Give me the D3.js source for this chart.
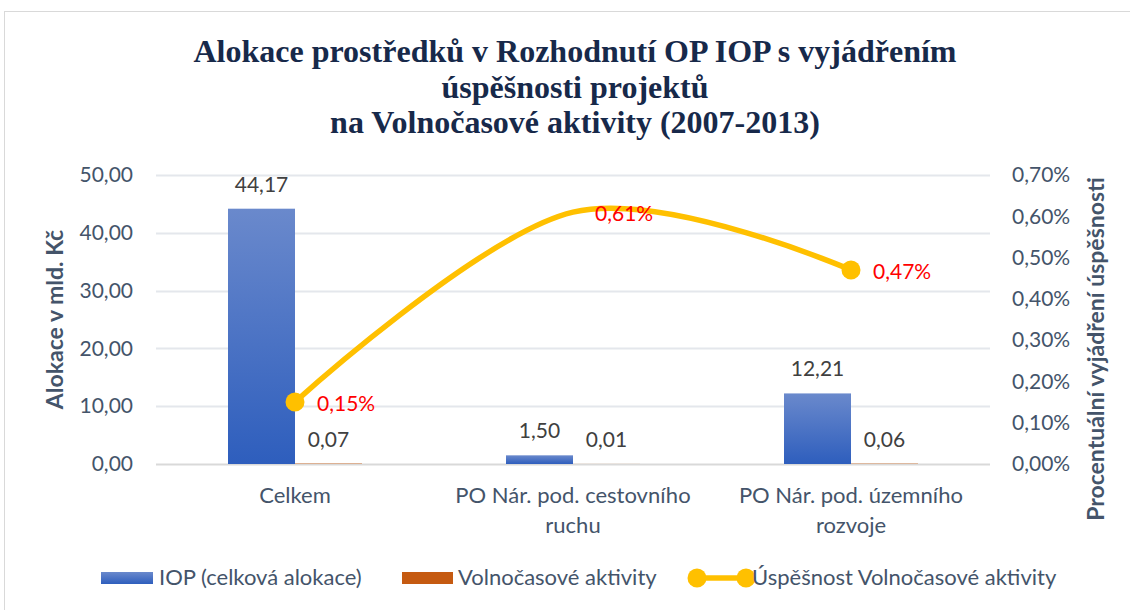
<!DOCTYPE html>
<html>
<head>
<meta charset="utf-8">
<script src="https://cdn.jsdelivr.net/npm/d3@7"></script>
<style>
  body { margin: 0; background: #fff; }
  text { font-family: Lato, "Open Sans", sans-serif; }
</style>
</head>
<body>
<svg id="chart" width="1130" height="610"></svg>
<script>
var categories = [["Celkem"], ["PO Nár. pod. cestovního", "ruchu"], ["PO Nár. pod. územního", "rozvoje"]];
var iopValues = [44.17, 1.50, 12.21];
var volnoValues = [0.07, 0.01, 0.06];
var successValues = [0.0015, 0.0061, 0.0047];
var successMarkers = [true, false, true];
var leftTicks = [0, 10, 20, 30, 40, 50];
var rightTicks = [0, 0.001, 0.002, 0.003, 0.004, 0.005, 0.006, 0.007];
var seriesNames = ["IOP (celková alokace)", "Volnočasové aktivity", "Úspěšnost Volnočasové aktivity"];
var titleLines = ["Alokace prostředků v Rozhodnutí OP IOP s vyjádřením", "úspěšnosti projektů", "na Volnočasové aktivity (2007-2013)"];

var svg = d3.select("#chart"),
    margin = {top: 175, right: 140, bottom: 146, left: 156},
    width = 1130 - margin.left - margin.right,
    height = 610 - margin.top - margin.bottom;

var fmt = function(v) { return d3.format(".2f")(v).replace(".", ","); };
var fmtPct = function(v) { return d3.format(".2%")(v).replace(".", ","); };
var textColor = "#44546a";
var fontSize = "22px";

// gradient for the blue bars
var defs = svg.append("defs");
var grad = defs.append("linearGradient").attr("id", "blueGrad")
    .attr("x1", 0).attr("y1", 0).attr("x2", 0).attr("y2", 1);
grad.append("stop").attr("offset", "0%").attr("stop-color", "#6a89cc");
grad.append("stop").attr("offset", "100%").attr("stop-color", "#2e5ebd");

// chart frame
svg.append("rect")
    .attr("x", 4.5).attr("y", 11.5)
    .attr("width", 1140).attr("height", 620)
    .attr("fill", "none").attr("stroke", "#d9d9d9");

// title
svg.append("g").selectAll("text").data(titleLines).enter().append("text")
    .attr("x", 575)
    .attr("y", function(d, i) { return [62, 98, 133][i]; })
    .attr("text-anchor", "middle")
    .style("font-family", "'Liberation Serif', 'Times New Roman', serif")
    .style("font-weight", "bold")
    .style("font-size", "32px")
    .attr("fill", "#17294a")
    .text(function(d) { return d; });

var x = d3.scaleBand()
    .domain(d3.range(categories.length))
    .range([0, width])
    .paddingInner(0.518)
    .paddingOuter(0.259);

var xSub = d3.scaleBand()
    .domain([0, 1])
    .range([0, x.bandwidth()]);

var y = d3.scaleLinear().domain([0, 50]).range([height, 0]);
var y2 = d3.scaleLinear().domain([0, 0.007]).range([height, 0]);

var g = svg.append("g")
    .attr("transform", "translate(" + margin.left + "," + margin.top + ")");

// gridlines
g.append("g").selectAll("line").data(leftTicks).enter().append("line")
    .attr("x1", 0).attr("x2", width)
    .attr("y1", function(d) { return Math.round(y(d)) + 0.5; })
    .attr("y2", function(d) { return Math.round(y(d)) + 0.5; })
    .attr("stroke", function(d) { return d === 0 ? "#d9d9d9" : "#e4e7ec"; })
    .attr("stroke-width", 2);

// left axis
var yAxis = g.append("g")
    .call(d3.axisLeft(y).tickValues(leftTicks).tickFormat(fmt).tickSize(0).tickPadding(23));
yAxis.select(".domain").remove();
yAxis.selectAll("text").style("font-size", "21px").style("font-family", "Lato").attr("fill", textColor);

// right axis
var yAxis2 = g.append("g")
    .attr("transform", "translate(" + width + ",0)")
    .call(d3.axisRight(y2).tickValues(rightTicks).tickFormat(fmtPct).tickSize(0).tickPadding(22));
yAxis2.select(".domain").remove();
yAxis2.selectAll("text").style("font-size", "21px").style("font-family", "Lato").attr("fill", textColor);

// axis titles
svg.append("text")
    .attr("transform", "translate(63," + (margin.top + height / 2) + ") rotate(-90)")
    .attr("text-anchor", "middle")
    .style("font-size", "23px").style("font-weight", "bold")
    .attr("fill", textColor)
    .text("Alokace v mld. Kč");

svg.append("text")
    .attr("transform", "translate(1104," + 349 + ") rotate(-90)")
    .attr("text-anchor", "middle")
    .style("font-size", "23px").style("font-weight", "bold")
    .attr("fill", textColor)
    .text("Procentuální vyjádření úspěšnosti");

// category labels
var cat = g.append("g").selectAll("text").data(categories).enter().append("text")
    .attr("x", function(d, i) { return x(i) + x.bandwidth() / 2; })
    .attr("y", 503 - margin.top)
    .attr("text-anchor", "middle")
    .style("font-size", fontSize)
    .attr("fill", textColor);
cat.selectAll("tspan").data(function(d) { return d; }).enter().append("tspan")
    .attr("x", function() { return d3.select(this.parentNode).attr("x"); })
    .attr("dy", function(d, i) { return i === 0 ? 0 : 30; })
    .text(function(d) { return d; });

// bars
g.append("g").selectAll("rect").data(iopValues).enter().append("rect")
    .attr("x", function(d, i) { return x(i) + xSub(0); })
    .attr("y", function(d) { return y(d); })
    .attr("width", xSub.bandwidth())
    .attr("height", function(d) { return height - y(d); })
    .attr("fill", "url(#blueGrad)");

g.append("g").selectAll("rect").data(volnoValues).enter().append("rect")
    .attr("x", function(d, i) { return x(i) + xSub(1); })
    .attr("y", function(d) { return y(d); })
    .attr("width", xSub.bandwidth())
    .attr("height", function(d) { return height - y(d); })
    .attr("fill", "#c55a11");

// bar labels
g.append("g").selectAll("text").data(iopValues).enter().append("text")
    .attr("x", function(d, i) { return x(i) + xSub(0) + xSub.bandwidth() / 2; })
    .attr("y", function(d) { return y(d) - 17; })
    .attr("text-anchor", "middle")
    .style("font-size", "21px").attr("fill", "#404040")
    .text(fmt);

g.append("g").selectAll("text").data(volnoValues).enter().append("text")
    .attr("x", function(d, i) { return x(i) + xSub(1) + xSub.bandwidth() / 2; })
    .attr("y", function(d) { return y(d) - 17; })
    .attr("text-anchor", "middle")
    .style("font-size", "21px").attr("fill", "#404040")
    .text(fmt);

// success line
var cx = function(d, i) { return x(i) + x.bandwidth() / 2; };
var line = d3.line()
    .x(cx)
    .y(function(d) { return y2(d); })
    .curve(d3.curveCatmullRom.alpha(0));

g.append("path")
    .datum(successValues)
    .attr("d", line)
    .attr("fill", "none")
    .attr("stroke", "#ffc000")
    .attr("stroke-width", 5.5)
    .attr("stroke-linecap", "round");

g.append("g").selectAll("circle").data(successValues).enter()
    .filter(function(d, i) { return successMarkers[i]; })
    .append("circle")
    .attr("cx", function(d) { return cx(d, successValues.indexOf(d)); })
    .attr("cy", function(d) { return y2(d); })
    .attr("r", 9.5)
    .attr("fill", "#ffc000");

g.append("g").selectAll("text").data(successValues).enter().append("text")
    .attr("x", function(d, i) { return cx(d, i) + 22; })
    .attr("y", function(d) { return y2(d) + 9; })
    .style("font-size", "21px").attr("fill", "#ff0000")
    .text(fmtPct);

// legend
var legend = svg.append("g").attr("transform", "translate(0,578)");
legend.append("rect").attr("x", 101).attr("y", -6).attr("width", 52).attr("height", 12).attr("fill", "url(#blueGrad)");
legend.append("rect").attr("x", 402).attr("y", -6).attr("width", 51).attr("height", 12).attr("fill", "#c55a11");
legend.append("line").attr("x1", 697).attr("x2", 746).attr("y1", 0).attr("y2", 0)
    .attr("stroke", "#ffc000").attr("stroke-width", 5.5);
legend.append("circle").attr("cx", 697).attr("cy", 0).attr("r", 9.5).attr("fill", "#ffc000");
legend.append("circle").attr("cx", 746).attr("cy", 0).attr("r", 9.5).attr("fill", "#ffc000");
legend.selectAll("text.lg").data(seriesNames).enter().append("text")
    .attr("class", "lg")
    .attr("x", function(d, i) { return [159, 458, 752][i]; })
    .attr("y", 7)
    .style("font-size", fontSize).attr("fill", textColor)
    .text(function(d) { return d; });
</script>
</body>
</html>
